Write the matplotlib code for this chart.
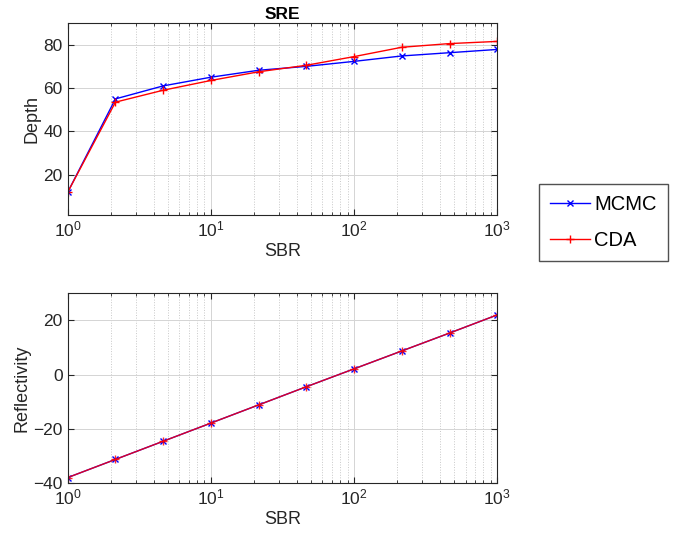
import numpy as np
import matplotlib
matplotlib.use("Agg")
import matplotlib.pyplot as plt

# SBR values (log spaced)
SBR = [1, 2.154, 4.642, 10, 21.54, 46.42, 100, 215.4, 464.2, 1000]

# Depth
Depth_MCMC = [12, 55, 61, 65, 68.2, 70, 72.3, 74.8, 76.3, 77.8]
Depth_CDA = [12, 53.5, 59, 63.5, 67.5, 70.5, 74.5, 78.8, 80.5, 81.5]

# Reflectivity
Refl_MCMC = [-38, -31.3, -24.6, -17.9, -11.2, -4.5, 2.1, 8.7, 15.3, 22]
Refl_CDA = [-38, -31.3, -24.6, -17.9, -11.2, -4.5, 2.1, 8.7, 15.3, 22]

plt.rcParams['font.family'] = ['Arial', 'Liberation Sans', 'DejaVu Sans']
grey = '#262626'

fig = plt.figure(figsize=(6.84, 5.47), dpi=100)
ax1 = fig.add_axes([0.099, 0.607, 0.628, 0.351])
ax2 = fig.add_axes([0.099, 0.117, 0.628, 0.347])

l1, = ax1.plot(SBR, Depth_MCMC, 'b-x', lw=1, ms=5, mew=1, label='MCMC')
l2, = ax1.plot(SBR, Depth_CDA, 'r-+', lw=1, ms=6, mew=1, label='CDA')
ax2.plot(SBR, Refl_MCMC, 'b-x', lw=1, ms=5, mew=1)
ax2.plot(SBR, Refl_CDA, 'r-+', lw=1, ms=6, mew=1, alpha=0.85)

ax1.set_ylim(1.5, 90)
ax1.set_yticks([20, 40, 60, 80])
ax2.set_ylim(-40, 30)
ax2.set_yticks([-40, -20, 0, 20])

for ax, yl in [(ax1, 'Depth'), (ax2, 'Reflectivity')]:
    ax.set_xscale('log')
    ax.set_xlim(1, 1000)
    ax.grid(True, which='major', color='#d4d4d4', lw=0.7)
    ax.grid(True, which='minor', axis='x', color='#c8c8c8', lw=0.7, ls=':')
    ax.set_axisbelow(True)
    ax.tick_params(which='both', direction='in', colors=grey, labelsize=12.5,
                   top=True, right=True)
    ax.tick_params(which='major', length=4)
    ax.tick_params(which='minor', length=2)
    for s in ax.spines.values():
        s.set_color(grey)
        s.set_linewidth(0.8)
    ax.set_xlabel('SBR', fontsize=13, color=grey, labelpad=2)
    ax.set_ylabel(yl, fontsize=13, color=grey, labelpad=2)

ax1.set_title('SRE', fontsize=12.5, fontweight='bold', pad=3)

fig.legend(handles=[l1, l2], loc='center', bbox_to_anchor=(0.882, 0.593),
           fontsize=14.5, frameon=True, fancybox=False, edgecolor=grey,
           handlelength=2.0, handletextpad=0.2, borderpad=0.55, labelspacing=0.85)

fig.savefig('out.png', dpi=100)
